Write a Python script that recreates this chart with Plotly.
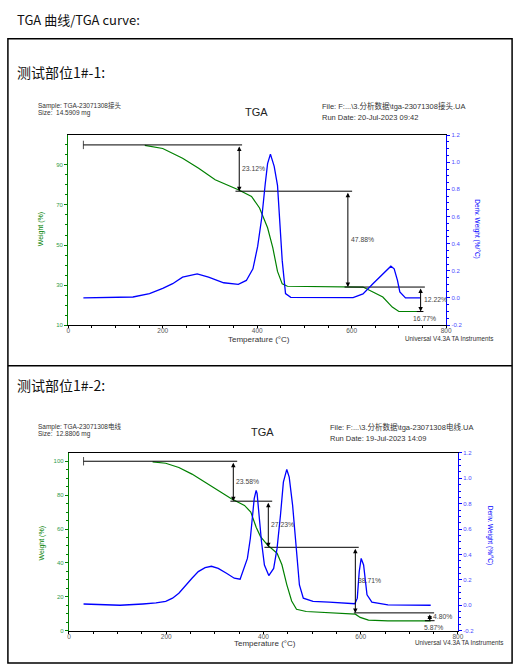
import plotly.graph_objects as go

# ---- 测试部位1#-1 : TGA-23071308接头 ----
t1_weight = [162, 200, 242, 276, 311, 360, 388, 405, 422, 433, 443, 453, 464,
             540, 624, 645, 666, 686, 700, 745]
w1_weight = [99.8, 98.2, 93.3, 88.3, 82.6, 77.6, 74.3, 68.5, 58.6, 48.7, 36.8,
             30.6, 29.4, 29.2, 29.0, 26.5, 24.0, 19.0, 16.8, 16.8]
t1_deriv = [32, 137, 172, 200, 221, 242, 273, 297, 329, 360, 377, 391, 401,
            410, 417, 422, 428, 436, 443, 448, 453, 460, 471, 603, 624, 645,
            666, 683, 690, 697, 702, 714, 745]
d1_deriv = [0.0, 0.007, 0.032, 0.07, 0.105, 0.153, 0.178, 0.153, 0.112, 0.1,
            0.129, 0.215, 0.38, 0.6, 0.84, 0.99, 1.06, 0.97, 0.83, 0.57, 0.275,
            0.032, 0.005, 0.003, 0.03, 0.105, 0.18, 0.234, 0.215, 0.129, 0.044,
            0.0, 0.0]
c1_levels = [100.0, 76.88, 29.0, 16.77]
c1_arrow_t = [362, 592, 746]
c1_line_from = [32, 354, 585, 738]
c1_line_to = [368, 601, 755, 752]
c1_steps = ['23.12%', '47.88%', '12.22%']
c1_residue = '16.77%'
c1_info = ['Sample: TGA-23071308接头', 'Size:  14.5909 mg',
           'File: F:...\\3.分析数据\\tga-23071308接头.UA',
           'Run Date: 20-Jul-2023 09:42']

# ---- 测试部位1#-2 : TGA-23071308电线 ----
t2_weight = [172, 199, 226, 253, 280, 307, 334, 361, 374, 385, 394, 408, 428,
             438, 448, 458, 468, 488, 522, 556, 589, 599, 616, 656, 744]
w2_weight = [99.6, 98.8, 96.3, 92.4, 87.6, 82.7, 77.8, 73.9, 70.0, 61.0, 55.5,
             50.6, 45.7, 38.9, 27.2, 17.5, 12.6, 11.3, 10.7, 10.1, 9.7, 7.8,
             6.2, 5.8, 5.8]
t2_deriv = [30, 105, 152, 179, 199, 213, 226, 240, 253, 266, 280, 293, 307,
            324, 340, 352, 357, 367, 373, 378, 381, 385, 387, 391, 396, 402,
            411, 421, 428, 435, 441, 448, 453, 460, 467, 474, 482, 502, 535,
            562, 588, 593, 597, 601, 606, 613, 623, 656, 744]
d2_deriv = [0.01, 0.0, 0.01, 0.018, 0.03, 0.056, 0.095, 0.16, 0.213, 0.265,
            0.296, 0.307, 0.291, 0.252, 0.213, 0.205, 0.265, 0.369, 0.526,
            0.709, 0.84, 0.905, 0.879, 0.709, 0.5, 0.317, 0.234, 0.29, 0.448,
            0.709, 0.97, 1.07, 1.01, 0.787, 0.448, 0.16, 0.056, 0.03, 0.024,
            0.018, 0.012, 0.056, 0.265, 0.369, 0.317, 0.082, 0.024, 0.003, 0.0]
c2_levels = [100.0, 76.42, 49.19, 10.48, 5.87]
c2_arrow_t = [338, 410, 589, 742]
c2_line_from = [30, 332, 402, 586, 732]
c2_line_to = [346, 418, 596, 751, 752]
c2_steps = ['23.58%', '27.23%', '38.71%', '4.80%']
c2_residue = '5.87%'
c2_info = ['Sample: TGA-23071308电线', 'Size:  12.8806 mg',
           'File: F:...\\3.分析数据\\tga-23071308电线.UA',
           'Run Date: 19-Jul-2023 14:09']

temp_ticks = [0, 200, 400, 600, 800]
deriv_ticks = [-0.2, 0.0, 0.2, 0.4, 0.6, 0.8, 1.0, 1.2]

FIG_W, FIG_H = 524, 671
GREEN = '#008000'
BLUE = '#0000ff'
SANS = 'Liberation Sans, Arial, Noto Sans CJK SC, sans-serif'
CJK = 'Noto Sans CJK SC, sans-serif'


def px(x):
    return x / FIG_W


def py(y):
    return 1 - y / FIG_H


def text_at(x, y, text, size, color='#333', xanchor='left', angle=0, family=SANS):
    return dict(x=px(x), y=py(y), xref='paper', yref='paper', text=text,
                showarrow=False, xanchor=xanchor, yanchor='middle',
                textangle=angle, font=dict(size=size, color=color, family=family))


fig = go.Figure()
annotations = []


def add_chart(n, box, w_range, tw, w, td, d, levels, arrow_t, line_from,
              line_to, steps, residue, wticks, wminor):
    x0, y0, x1, y1 = box
    xs = 'x' if n == 1 else 'x2'
    yw = 'y' if n == 1 else 'y3'
    yd = 'y2' if n == 1 else 'y4'

    fig.add_trace(go.Scatter(x=tw, y=w, xaxis=xs, yaxis=yw, mode='lines',
                             line=dict(color=GREEN, width=1.2), showlegend=False))
    fig.add_trace(go.Scatter(x=td, y=d, xaxis=xs, yaxis=yd, mode='lines',
                             line=dict(color=BLUE, width=1.3), showlegend=False))

    # step marker lines
    for i, lvl in enumerate(levels):
        fig.add_trace(go.Scatter(
            x=[line_from[i], line_to[i]], y=[lvl, lvl], xaxis=xs, yaxis=yw,
            mode='lines+markers' if i == 0 else 'lines',
            marker=dict(symbol=['line-ns-open', 'circle'], size=[6, 0],
                        line=dict(color='black', width=1), color='black'),
            line=dict(color='black', width=1), showlegend=False))
    for i, t in enumerate(arrow_t):
        annotations.append(dict(
            x=t, y=levels[i + 1], ax=t, ay=levels[i], xref=xs, yref=yw,
            axref=xs, ayref=yw, text='', showarrow=True, arrowhead=2,
            arrowside='end+start', arrowsize=0.9, arrowwidth=1,
            arrowcolor='black', standoff=0, startstandoff=0))
        annotations.append(dict(
            x=t, y=(levels[i] + levels[i + 1]) / 2, xref=xs, yref=yw,
            text=steps[i], showarrow=False, xanchor='left', xshift=1,
            font=dict(size=6.8, color='#444', family=SANS)))
    annotations.append(dict(
        x=arrow_t[-1], y=levels[-1], xref=xs, yref=yw, text=residue,
        showarrow=False, xanchor='center', yanchor='top', xshift=4, yshift=-1,
        font=dict(size=6.8, color='#444', family=SANS)))

    xkey = 'xaxis' if n == 1 else 'xaxis2'
    ywkey = 'yaxis' if n == 1 else 'yaxis3'
    ydkey = 'yaxis2' if n == 1 else 'yaxis4'
    fig.layout[xkey] = dict(
        domain=[px(x0), px(x1)], range=[0, 800], anchor=yw,
        tickvals=temp_ticks, ticks='outside', ticklen=2, tickcolor='black',
        minor=dict(dtick=50, ticks='outside', ticklen=2, tickcolor='black'),
        showline=True, linecolor='black', linewidth=1.3, mirror=True,
        showgrid=False, zeroline=False, ticklabelstandoff=-3,
        tickfont=dict(size=6.5, color='#555', family=SANS))
    fig.layout[ywkey] = dict(
        domain=[py(y1), py(y0)], range=w_range, anchor=xs,
        tickvals=wticks, ticks='outside', ticklen=3, tickcolor=GREEN,
        minor=dict(dtick=wminor, ticks='outside', ticklen=2, tickcolor=GREEN),
        showline=True, linecolor=GREEN, linewidth=1.3,
        showgrid=False, zeroline=False,
        tickfont=dict(size=6, color='#2f9a4a', family=SANS))
    fig.layout[ydkey] = dict(
        overlaying=yw, side='right', anchor=xs, range=[-0.2, 1.2],
        tickvals=deriv_ticks, ticktext=[f'{v:.1f}' for v in deriv_ticks],
        ticks='outside', ticklen=3, tickcolor=BLUE,
        minor=dict(dtick=0.05, ticks='outside', ticklen=2, tickcolor=BLUE),
        showline=True, linecolor=BLUE, linewidth=1.3,
        showgrid=False, zeroline=False,
        tickfont=dict(size=6, color='#4a4aff', family=SANS))


add_chart(1, (67.3, 133.3, 451, 325), [10, 104.9], t1_weight, w1_weight,
          t1_deriv, d1_deriv, c1_levels, c1_arrow_t, c1_line_from, c1_line_to,
          c1_steps, c1_residue, [10, 30, 50, 70, 90], 5)
add_chart(2, (68, 454, 463, 633.3), [0, 104.9], t2_weight, w2_weight,
          t2_deriv, d2_deriv, c2_levels, c2_arrow_t, c2_line_from, c2_line_to,
          c2_steps, c2_residue, [0, 20, 40, 60, 80, 100], 5)

# page texts
annotations += [
    text_at(13, 17, 'TGA 曲线/TGA curve:', 13, '#111', family=CJK),
    text_at(13, 70, '测试部位1#-1:', 14, '#111', family=CJK),
    text_at(13, 385, '测试部位1#-2:', 14, '#111', family=CJK),
    # chart 1 header
    text_at(35, 103.3, c1_info[0], 6.5),
    text_at(35, 110.5, c1_info[1], 6.5),
    text_at(258, 109.5, 'TGA', 11, '#222', 'center'),
    text_at(323, 104, c1_info[2], 7.5),
    text_at(323, 116, c1_info[3], 7.5),
    text_at(40, 228, 'Weight (%)', 7, GREEN, 'center', -90),
    text_at(482, 228, 'Deriv. Weight (%/°C)', 6.5, BLUE, 'center', 90),
    text_at(261, 340, 'Temperature (°C)', 8, '#333', 'center'),
    text_at(407, 338.5, 'Universal V4.3A TA Instruments', 6.3, '#333'),
    # chart 2 header
    text_at(35, 427.2, c2_info[0], 6.5),
    text_at(35, 434.4, c2_info[1], 6.5),
    text_at(265, 432.5, 'TGA', 11, '#222', 'center'),
    text_at(331, 427.5, c2_info[2], 7.5),
    text_at(331, 439.5, c2_info[3], 7.5),
    text_at(41, 545, 'Weight (%)', 7, GREEN, 'center', -90),
    text_at(495, 537, 'Deriv. Weight (%/°C)', 6.5, BLUE, 'center', 90),
    text_at(267, 646.5, 'Temperature (°C)', 8, '#333', 'center'),
    text_at(417, 645.5, 'Universal V4.3A TA Instruments', 6.3, '#333'),
]

shapes = [
    dict(type='rect', xref='paper', yref='paper', x0=px(6), x1=px(518),
         y0=py(666), y1=py(36), line=dict(color='black', width=1.5)),
    dict(type='line', xref='paper', yref='paper', x0=px(6), x1=px(518),
         y0=py(366), y1=py(366), line=dict(color='black', width=1.5)),
]

fig.update_layout(
    width=FIG_W, height=FIG_H,
    margin=dict(l=0, r=0, t=0, b=0),
    paper_bgcolor='white', plot_bgcolor='white',
    annotations=annotations, shapes=shapes,
    showlegend=False,
)

# drop the browser's default page margin so the figure fills the window
fig.write_html("out.html",
               config={'displayModeBar': False},
               post_script="document.body.style.margin='0';"
                           "document.body.style.overflow='hidden';")
